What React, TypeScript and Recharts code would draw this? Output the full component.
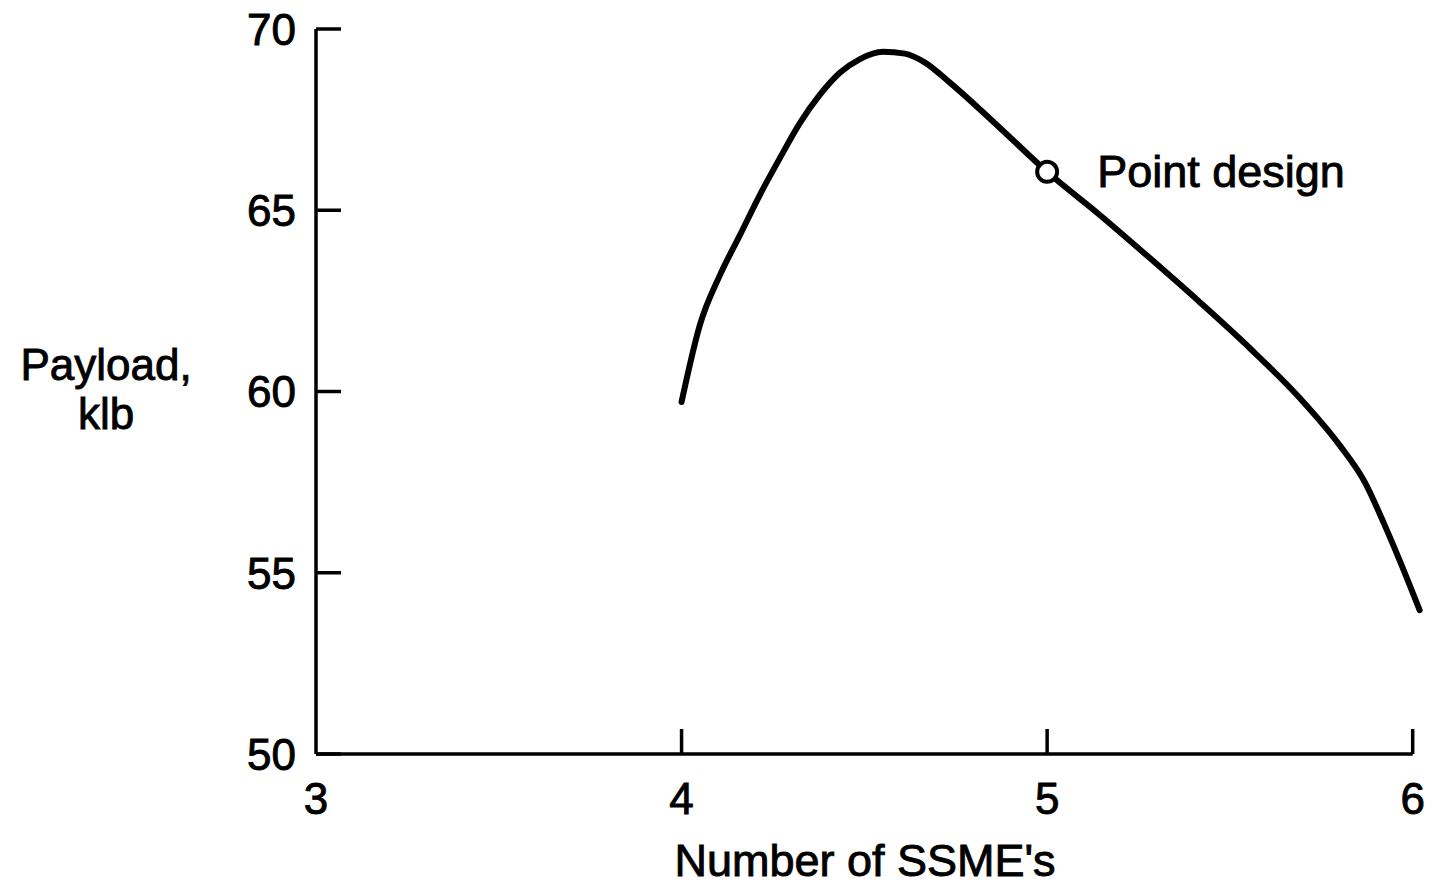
import React from 'react';
import { LineChart, Line, XAxis, YAxis, ReferenceLine, ReferenceDot } from 'recharts';

const engines = [4.0, 4.05, 4.105, 4.16, 4.214, 4.269, 4.324, 4.378, 4.433, 4.488, 4.551, 4.611, 4.665, 4.734, 4.871, 5.0, 5.144, 5.281, 5.417, 5.554, 5.691, 5.8, 5.869, 5.923, 5.964, 6.019];
const payload = [59.71, 61.83, 63.21, 64.32, 65.42, 66.44, 67.41, 68.18, 68.79, 69.17, 69.37, 69.32, 69.08, 68.52, 67.27, 66.06, 64.87, 63.68, 62.47, 61.2, 59.82, 58.52, 57.5, 56.32, 55.35, 53.97];
const xTicks = [3, 4, 5, 6];
const yTicks = [50, 55, 60, 65, 70];
const pointDesign = { x: 5, y: 66.06, label: 'Point design' };

const data = engines.map((x, i) => ({ x, y: payload[i] }));

const FONT = '"Liberation Sans", Arial, Helvetica, sans-serif';
const TEXT_STYLE = { fontFamily: FONT, fill: '#000', stroke: '#000', strokeWidth: 0.9 };

const XTick = (props: any) => {
  const { x, y, payload: p } = props;
  return (
    <g>
      {p.value !== 3 && <line x1={x} x2={x} y1={y} y2={y - 25} stroke="#000" strokeWidth={3.5} />}
      <text x={x} y={y + 60} textAnchor="middle" fontSize={44} style={TEXT_STYLE}>
        {p.value}
      </text>
    </g>
  );
};

const YTick = (props: any) => {
  const { x, y, payload: p } = props;
  return (
    <g>
      <line x1={x} x2={x + 25} y1={y} y2={y} stroke="#000" strokeWidth={3.5} />
      <text x={x - 20} y={y} dy="0.36em" textAnchor="end" fontSize={44} style={TEXT_STYLE}>
        {p.value}
      </text>
    </g>
  );
};

const YLabel = (props: any) => {
  const vb = props.viewBox;
  const cx = vb.x - 150;
  const cy = vb.y + vb.height / 2;
  return (
    <text textAnchor="middle" fontSize={44} style={TEXT_STYLE}>
      <tspan x={cx} y={cy - 12}>Payload,</tspan>
      <tspan x={cx} y={cy + 37}>klb</tspan>
    </text>
  );
};

const XLabel = (props: any) => {
  const vb = props.viewBox;
  return (
    <text x={vb.x + vb.width / 2 - 3} y={vb.y + 122} textAnchor="middle" fontSize={45} style={TEXT_STYLE}>
      Number of SSME's
    </text>
  );
};

const DotLabel = (props: any) => {
  const vb = props.viewBox;
  return (
    <text x={vb.x + vb.width + 40} y={vb.y + vb.height / 2 + 15} fontSize={45} style={TEXT_STYLE}>
      {pointDesign.label}
    </text>
  );
};

export default function App() {
  return (
    <div style={{ position: 'absolute', left: 0, top: 0, background: '#fff' }}>
      <LineChart width={1447} height={891} data={data} margin={{ top: 29, right: 27, bottom: 77, left: 256 }}>
        <XAxis
          type="number"
          dataKey="x"
          domain={[3, 6.02]}
          ticks={xTicks}
          axisLine={false}
          tickLine={false}
          tickSize={0}
          tickMargin={0}
          tick={<XTick />}
          height={60}
          label={<XLabel />}
        />
        <YAxis
          type="number"
          domain={[50, 70]}
          ticks={yTicks}
          width={60}
          axisLine={{ stroke: '#000', strokeWidth: 3.5 }}
          tickLine={false}
          tickSize={0}
          tickMargin={0}
          tick={<YTick />}
          label={<YLabel />}
        />
        <ReferenceLine segment={[{ x: 3, y: 50 }, { x: 6, y: 50 }]} stroke="#000" strokeWidth={3.5} />
        <Line
          type="monotone"
          dataKey="y"
          stroke="#000"
          strokeWidth={6}
          strokeLinecap="round"
          dot={false}
          activeDot={false}
          isAnimationActive={false}
        />
        <ReferenceDot
          x={pointDesign.x}
          y={pointDesign.y}
          r={10}
          fill="#fff"
          stroke="#000"
          strokeWidth={4}
          label={<DotLabel />}
        />
      </LineChart>
    </div>
  );
}
